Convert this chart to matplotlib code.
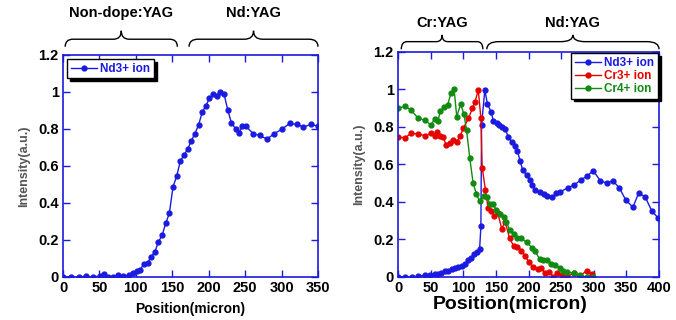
import matplotlib.pyplot as plt
from matplotlib.path import Path
from matplotlib.patches import PathPatch
import matplotlib.transforms as mtransforms

plt.rcParams['font.family'] = ['Liberation Sans', 'DejaVu Sans']
plt.rcParams['font.weight'] = 'bold'

# ~~~ DATA ~~~~~~~~~~~~~~~~~~~~~~~~~~~~~~~~~~~~~~~~~~~~~~~~~~~~~~~~~~~~~~~~~~~
# left panel: Nd3+ ion
nd_left_x = [0, 11, 22, 31, 41, 51, 56, 62, 69, 76, 83, 90, 96, 101, 106, 111,
             116, 121, 126, 131, 136, 141, 146, 151, 156, 161, 166, 171, 176,
             181, 186, 191, 196, 201, 206, 211, 216, 221, 226, 231, 237, 242,
             246, 251, 261, 270, 280, 290, 301, 311, 321, 330, 340, 350]
nd_left_y = [0, 0, 0, 0.004, 0, 0.005, 0.017, 0, 0, 0.01, 0.005, 0.01, 0.02,
             0.03, 0.04, 0.07, 0.075, 0.11, 0.135, 0.19, 0.225, 0.29, 0.345,
             0.487, 0.545, 0.625, 0.66, 0.69, 0.735, 0.775, 0.82, 0.89, 0.925,
             0.965, 0.99, 0.98, 1.0, 0.99, 0.905, 0.835, 0.8, 0.78, 0.815,
             0.815, 0.775, 0.765, 0.745, 0.775, 0.8, 0.83, 0.825, 0.81, 0.825,
             0.815]

# right panel: Nd3+ ion
nd_x = [0, 11, 21, 31, 41, 49, 56, 61, 66, 72, 77, 82, 87, 92, 98, 103, 108,
        112, 116, 121, 125, 127, 128, 133, 137, 143, 146, 151, 155, 160, 164,
        169, 174, 179, 183, 187, 191, 197, 202, 206, 210, 217, 223, 229, 236,
        242, 248, 260, 270, 280, 290, 299, 310, 320, 329, 339, 349, 360, 369,
        379, 389, 399]
nd_y = [0, 0, 0, 0.004, 0.01, 0.01, 0.018, 0.017, 0.023, 0.03, 0.03, 0.04,
        0.046, 0.055, 0.06, 0.07, 0.088, 0.1, 0.125, 0.133, 0.147, 0.27, 0.81,
        0.997, 0.923, 0.878, 0.834, 0.823, 0.81, 0.802, 0.79, 0.748, 0.722,
        0.699, 0.672, 0.62, 0.571, 0.544, 0.517, 0.491, 0.464, 0.455, 0.443,
        0.432, 0.425, 0.446, 0.452, 0.476, 0.491, 0.517, 0.539, 0.567, 0.514,
        0.5, 0.514, 0.476, 0.411, 0.372, 0.45, 0.425, 0.352, 0.313]

# right panel: Cr3+ ion
cr3_x = [0, 11, 20, 30, 41, 51, 56, 59, 64, 69, 74, 80, 85, 90, 95, 100, 108,
         114, 118, 123, 127, 129, 134, 138, 143, 147, 153, 159, 164, 171, 177,
         183, 189, 195, 200, 207, 214, 219, 225, 232, 238, 243, 251, 259, 269,
         279, 289, 297]
cr3_y = [0.745, 0.743, 0.766, 0.763, 0.754, 0.766, 0.754, 0.772, 0.75, 0.745,
         0.704, 0.716, 0.73, 0.721, 0.75, 0.793, 0.846, 0.9, 0.935, 0.997,
         0.846, 0.583, 0.464, 0.366, 0.352, 0.325, 0.34, 0.256, 0.295, 0.206,
         0.167, 0.162, 0.14, 0.112, 0.082, 0.052, 0.043, 0.05, 0.023, 0.028,
         0.0, 0.02, 0.009, 0.0, 0.02, 0.005, 0.034, 0.015]

# right panel: Cr4+ ion
cr4_x = [0, 11, 20, 30, 41, 51, 56, 61, 65, 71, 76, 81, 86, 90, 96, 101, 105,
         110, 115, 120, 125, 131, 136, 141, 146, 150, 157, 162, 166, 171, 177,
         183, 189, 197, 205, 210, 217, 222, 229, 235, 241, 248, 253, 259, 269,
         279, 289, 299]
cr4_y = [0.9, 0.91, 0.89, 0.85, 0.835, 0.81, 0.845, 0.83, 0.887, 0.905, 0.917,
         0.98, 1.0, 0.855, 0.923, 0.868, 0.784, 0.633, 0.503, 0.443, 0.405,
         0.434, 0.425, 0.39, 0.39, 0.357, 0.336, 0.318, 0.295, 0.25, 0.228,
         0.206, 0.206, 0.185, 0.157, 0.139, 0.094, 0.09, 0.089, 0.071, 0.062,
         0.046, 0.034, 0.027, 0.02, 0.009, 0.0, 0.0]

blue = '#1a1ae0'
red = '#e60000'
green = '#108a10'
ytick_vals = [0, 0.2, 0.4, 0.6, 0.8, 1.0, 1.2]
ytick_labels = ['0', '0.2', '0.4', '0.6', '0.8', '1', '1.2']


def style_axes(ax, xmax, xstep, xl_size, xl_pad):
    ax.set_xlim(0, xmax)
    ax.set_ylim(0, 1.2)
    ax.set_xticks(range(0, xmax + 1, xstep))
    ax.set_yticks(ytick_vals)
    ax.set_yticklabels(ytick_labels)
    for s in ax.spines.values():
        s.set_color(blue)
        s.set_linewidth(1.2)
    ax.tick_params(direction='in', top=True, right=True, color=blue,
                   length=5, width=1, labelsize=10.5, pad=3)
    for lab in ax.get_xticklabels() + ax.get_yticklabels():
        lab.set_fontweight('bold')
    ax.set_xlabel('Position(micron)', fontsize=xl_size, fontweight='bold',
                  labelpad=xl_pad)
    ax.set_ylabel('Intensity(a.u.)', fontsize=9, fontweight='bold',
                  color='#555555', labelpad=6)


def brace(ax, x0, x1, yb, yh, yc, label, ty):
    trans = mtransforms.blended_transform_factory(ax.transData, ax.transAxes)
    xm = (x0 + x1) / 2
    r = (x1 - x0) * 0.07
    verts = [(x0, yb), (x0, yh), (x0 + r, yh), (xm - r, yh), (xm, yh),
             (xm, yc), (xm, yh), (xm + r, yh), (x1 - r, yh), (x1, yh), (x1, yb)]
    codes = [Path.MOVETO, Path.CURVE3, Path.CURVE3, Path.LINETO, Path.CURVE3,
             Path.CURVE3, Path.CURVE3, Path.CURVE3, Path.LINETO, Path.CURVE3,
             Path.CURVE3]
    ax.add_patch(PathPatch(Path(verts, codes), fill=False, lw=1.0,
                           ec='black', transform=trans, clip_on=False))
    ax.text(xm, ty, label, transform=trans, ha='center', va='center',
            fontsize=10.5, fontweight='bold', clip_on=False)


fig = plt.figure(figsize=(6.76, 3.2), dpi=100)
ax1 = fig.add_axes([0.0932, 0.1344, 0.3772, 0.6938])
ax2 = fig.add_axes([0.5888, 0.1344, 0.3861, 0.7031])

ms = 3.5
ax1.plot(nd_left_x, nd_left_y, '-o', color=blue, lw=1, ms=ms,
         label='Nd3+ ion')
style_axes(ax1, 350, 50, 10, 5)
leg1 = ax1.legend(loc='upper left', fontsize=8.5, frameon=True, fancybox=False,
                  shadow={'color': 'black', 'alpha': 1}, edgecolor='black',
                  handlelength=2.2, borderaxespad=0.35, borderpad=0.3,
                  handletextpad=0.3)
for t in leg1.get_texts():
    t.set_color(blue)
    t.set_fontweight('bold')
brace(ax1, 3, 157, 1.037, 1.071, 1.109, 'Non-dope:YAG', 1.188)
brace(ax1, 173, 350, 1.037, 1.071, 1.109, 'Nd:YAG', 1.188)

ax2.plot(nd_x, nd_y, '-o', color=blue, lw=1, ms=ms, label='Nd3+ ion')
ax2.plot(cr3_x, cr3_y, '-o', color=red, lw=1, ms=ms, label='Cr3+ ion')
ax2.plot(cr4_x, cr4_y, '-o', color=green, lw=1, ms=ms, label='Cr4+ ion')
style_axes(ax2, 400, 50, 14, -2)
ax2.xaxis.set_label_coords(0.43, -0.083)
ax2.xaxis.label.set_va('top')
leg2 = ax2.legend(loc='upper right', fontsize=8.5, frameon=True,
                  fancybox=False, shadow={'color': 'black', 'alpha': 1},
                  edgecolor='black', handlelength=2.2, borderaxespad=0.1,
                  borderpad=0.3, handletextpad=0.3, labelspacing=0.1)
for t, c in zip(leg2.get_texts(), [blue, red, green]):
    t.set_color(c)
    t.set_fontweight('bold')
brace(ax2, 5, 130, 1.012, 1.046, 1.076, 'Cr:YAG', 1.13)
brace(ax2, 136, 400, 1.012, 1.046, 1.076, 'Nd:YAG', 1.13)

fig.savefig('out.png', dpi=100)
